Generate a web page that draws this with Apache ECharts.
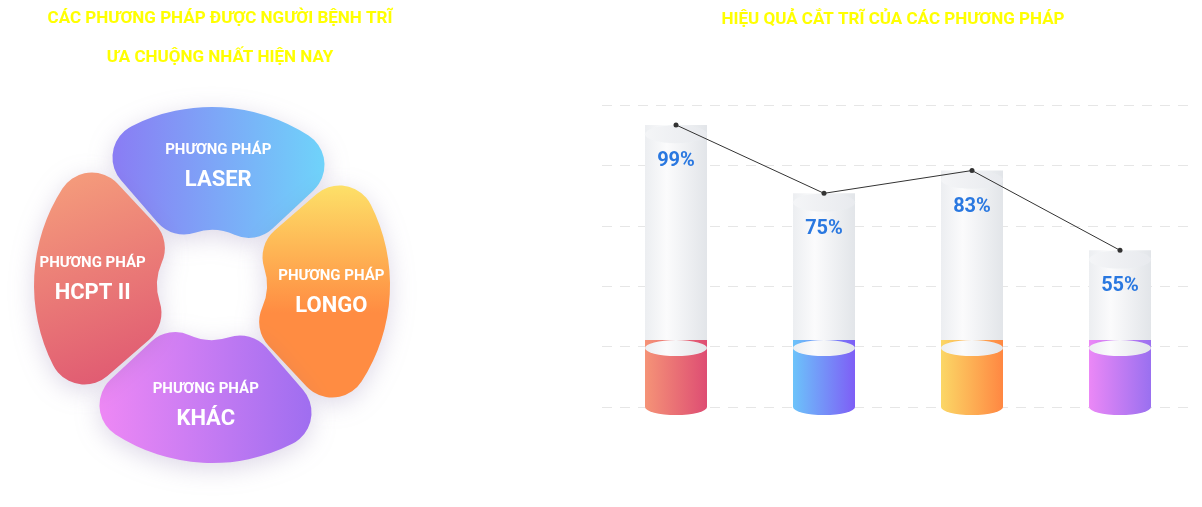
<!DOCTYPE html>
<html><head><meta charset="utf-8">
<script src="https://cdn.jsdelivr.net/npm/echarts@6/dist/echarts.min.js"></script>
<style>html,body{margin:0;background:#fff}#c{width:1202px;height:507px}</style>
</head><body><div id="c"></div>
<script>
const methods = ['LASER', 'LONGO', 'KHÁC', 'HCPT II']
const methodShare = [1, 1, 1, 1]
const categories = ['HCPT II', 'LASER', 'LONGO', 'KHÁC']
const efficiency = [99, 75, 83, 55]
const baseLevel = 23.5

const F = "'Liberation Sans Narrow','Roboto',sans-serif"
const grad = (a, b, x2, y2) => new echarts.graphic.LinearGradient(0, 0, x2, y2, [{ offset: 0, color: a }, { offset: 1, color: b }])
const petalColors = [grad('#8a7cf4', '#6fd3fa', 1, 0), grad('#fde068', '#ff8c42', 0, 0.6), grad('#ee88f5', '#9f6ef0', 1, 0), grad('#f6a07c', '#e05a72', 0.6, 1)]
const barColors = [['#f59377', '#de4d73'], ['#6cc3fa', '#7e5ef6'], ['#fbd766', '#ff8742'], ['#eb88f6', '#9a70f0']]
const white = grad('#f4f5f7', '#e8eaee', 1, 0)
const whiteBar = new echarts.graphic.LinearGradient(0, 0, 1, 0, [{ offset: 0, color: '#eceef1' }, { offset: 0.35, color: '#fbfbfc' }, { offset: 1, color: '#e2e5e9' }])

const chart = echarts.init(document.getElementById('c'))
chart.setOption({
  animation: false,
  title: [
    { text: 'CÁC PHƯƠNG PHÁP ĐƯỢC NGƯỜI BỆNH TRĨ\nƯA CHUỘNG NHẤT HIỆN NAY', left: 215, top: -6, textAlign: 'center',
      textStyle: { color: '#ffff00', fontFamily: F, fontSize: 17, fontWeight: 'bold', lineHeight: 39 } },
    { text: 'HIỆU QUẢ CẮT TRĨ CỦA CÁC PHƯƠNG PHÁP', left: 888, top: 6, textAlign: 'center',
      textStyle: { color: '#ffff00', fontFamily: F, fontSize: 17, fontWeight: 'bold' } }
  ],
  grid: { left: 602, right: 8, top: 105, bottom: 100 },
  xAxis: { type: 'category', data: categories, show: false },
  yAxis: { type: 'value', min: 0, max: 106, interval: 21.2, axisLabel: { show: false }, axisLine: { show: false }, axisTick: { show: false },
    splitLine: { lineStyle: { color: '#e6e6e6', type: [10, 8] } } },
  series: [
    { type: 'pie', center: [212, 285], radius: [55, 178], startAngle: 132, padAngle: 2, label: {
        position: 'inside', formatter: p => '{a|PHƯƠNG PHÁP}\n{b|' + p.name + '}',
        rich: { a: { color: '#fff', fontFamily: F, fontSize: 15, fontWeight: 'bold', lineHeight: 30 }, b: { color: '#fff', fontFamily: F, fontSize: 22, fontWeight: 'bold', lineHeight: 30 } } },
      itemStyle: { borderRadius: 35, shadowBlur: 25, shadowColor: 'rgba(120,100,160,0.25)', shadowOffsetY: 6 },
      data: methods.map((m, i) => ({ name: m, value: methodShare[i], itemStyle: { color: petalColors[i] } })) },
    { type: 'bar', stack: 'c', barWidth: 62, data: categories.map((c, i) => ({ value: baseLevel, itemStyle: { color: grad(barColors[i][0], barColors[i][1], 1, 0) } })) },
    { type: 'bar', stack: 'c', barWidth: 62, data: efficiency.map(v => v - baseLevel), itemStyle: { color: whiteBar },
      label: { show: true, position: 'insideTop', distance: 26, formatter: p => efficiency[p.dataIndex] + '%', color: '#2a78e0', fontFamily: F, fontSize: 20, fontWeight: 'bold' } },
    { type: 'pictorialBar', symbol: 'circle', symbolSize: [62, 16], symbolOffset: [0, 8], symbolPosition: 'start', z: 1,
      data: categories.map((c, i) => ({ value: 1, itemStyle: { color: grad(barColors[i][0], barColors[i][1], 1, 0) } })) },
    { type: 'pictorialBar', symbol: 'circle', symbolSize: [62, 16], symbolPosition: 'end', z: 3,
      data: categories.map(() => baseLevel), itemStyle: { color: whiteBar } },
    { type: 'pictorialBar', symbol: 'circle', symbolSize: [62, 18], symbolPosition: 'end', z: 3,
      data: efficiency, itemStyle: { color: white, borderColor: '#eef0f2', borderWidth: 1 } },
    { type: 'line', data: efficiency, z: 5, symbol: 'circle', symbolSize: 5, lineStyle: { color: '#333', width: 1 }, itemStyle: { color: '#333' } }
  ]
})
</script></body></html>
